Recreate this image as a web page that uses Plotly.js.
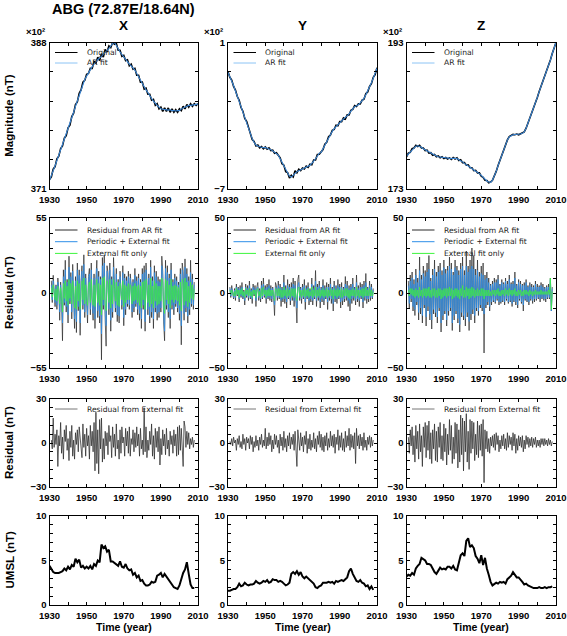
<!DOCTYPE html>
<html><head><meta charset="utf-8">
<script src="https://cdn.plot.ly/plotly-3.0.1.min.js"></script>
<style>html,body{margin:0;padding:0;background:#fff}#chart{width:567px;height:636px}</style>
</head><body><div id="chart"></div>
<script>
// ---------- DATA ----------
const yearsAnnual = [1930,1931,1932,1933,1934,1935,1936,1937,1938,1939,1940,1941,1942,1943,1944,1945,1946,1947,1948,1949,1950,1951,1952,1953,1954,1955,1956,1957,1958,1959,1960,1961,1962,1963,1964,1965,1966,1967,1968,1969,1970,1971,1972,1973,1974,1975,1976,1977,1978,1979,1980,1981,1982,1983,1984,1985,1986,1987,1988,1989,1990,1991,1992,1993,1994,1995,1996,1997,1998,1999,2000,2001,2002,2003,2004,2005,2006,2007,2008,2009,2010];

// Magnitude (x10^2 nT)
const xOriginal = [372.1,372.4,373.3,373.6,374.5,374.8,375.7,376.0,376.9,377.2,378.1,378.4,379.4,379.8,380.8,381.1,382.1,382.5,383.4,383.6,384.3,
 384.4,385.0,385.0,385.8,385.6,386.3,385.9,386.7,386.3,387.2,
 386.9,387.6,387.4,388.0,387.8,387.9,387.1,387.1,386.4,386.5,
 385.9,386.0,385.3,385.5,384.9,385.0,384.2,384.2,383.4,383.4,
 382.6,382.7,382.0,382.0,381.3,381.4,380.7,380.9,380.3,380.5,
 380.0,380.4,380.0,380.4,379.9,380.3,379.9,380.2,379.9,380.3,
 380.1,380.6,380.3,380.8,380.5,380.9,380.6,380.9,380.7,380.9];
const xARfit = [372.0,372.5,373.1,373.7,374.3,374.9,375.5,376.1,376.7,377.3,377.9,378.5,379.2,379.9,380.6,381.2,381.9,382.6,383.2,383.7,384.1,
 384.5,384.8,385.2,385.5,385.8,386.0,386.2,386.4,386.6,386.9,
 387.1,387.3,387.6,387.9,388.0,387.7,387.3,386.9,386.6,386.3,
 386.1,385.8,385.5,385.3,385.1,384.8,384.4,384.0,383.6,383.2,
 382.8,382.5,382.2,381.8,381.5,381.2,380.9,380.7,380.5,380.3,
 380.25,380.2,380.2,380.15,380.2,380.1,380.1,380.05,380.1,380.1,
 380.3,380.4,380.5,380.6,380.7,380.7,380.75,380.8,380.8,380.85];
const yOriginal = [-0.6,-0.9,-1.05,-1.4,-1.6,-1.95,-2.15,-2.55,-2.75,-3.15,-3.3,
 -3.65,-3.9,-4.3,-4.4,-4.65,-4.6,-4.75,-4.68,-4.8,-4.7,
 -4.82,-4.75,-4.9,-4.88,-5.05,-5.02,-5.2,-5.3,-5.62,-5.7,
 -6.05,-6.1,-6.4,-6.25,-6.35,-6.0,-6.12,-5.92,-6.0,-5.85,
 -5.9,-5.75,-5.82,-5.65,-5.68,-5.42,-5.42,-5.12,-5.1,-4.95,
 -4.85,-4.55,-4.45,-4.15,-4.05,-3.8,-3.75,-3.52,-3.55,-3.32,
 -3.32,-3.12,-3.18,-2.95,-2.95,-2.7,-2.65,-2.45,-2.5,-2.35,
 -2.35,-2.15,-2.1,-1.8,-1.7,-1.4,-1.25,-0.9,-0.75,-0.38];
const yARfit = [-0.63,-0.85,-1.1,-1.35,-1.65,-1.9,-2.2,-2.5,-2.8,-3.1,-3.35,
 -3.6,-3.95,-4.25,-4.45,-4.6,-4.65,-4.7,-4.72,-4.75,-4.73,
 -4.78,-4.8,-4.85,-4.92,-5.0,-5.08,-5.15,-5.35,-5.55,-5.75,
 -5.95,-6.15,-6.3,-6.35,-6.25,-6.1,-6.05,-6.0,-5.95,-5.9,
 -5.85,-5.8,-5.75,-5.7,-5.6,-5.5,-5.35,-5.2,-5.05,-5.0,
 -4.8,-4.6,-4.4,-4.2,-4.0,-3.85,-3.7,-3.58,-3.48,-3.38,
 -3.28,-3.18,-3.1,-3.0,-2.9,-2.75,-2.6,-2.5,-2.45,-2.4,
 -2.3,-2.2,-2.05,-1.85,-1.65,-1.45,-1.2,-0.95,-0.7,-0.4];
const zOriginal = [177.4,177.9,178.0,178.5,178.6,178.95,178.8,178.95,178.6,178.6,178.25,
 178.3,177.9,177.95,177.6,177.7,177.4,177.5,177.25,177.4,177.15,
 177.3,177.1,177.25,177.05,177.3,177.1,177.25,176.9,177.0,176.6,
 176.6,176.25,176.3,175.9,175.9,175.5,175.55,175.2,175.2,174.75,
 174.6,174.2,174.15,173.85,173.95,174.2,174.7,175.4,176.2,176.9,
 177.6,178.4,179.1,179.7,180.15,180.25,180.45,180.4,180.5,180.4,
 180.55,180.6,180.8,181.3,182.0,182.7,183.3,183.9,184.6,185.5,
 186.3,187.0,187.6,188.3,189.0,189.8,190.6,191.5,192.3,193.0];
const zARfit = [177.5,177.8,178.1,178.4,178.7,178.85,178.9,178.85,178.7,178.5,178.35,
 178.2,178.0,177.85,177.7,177.6,177.5,177.4,177.35,177.3,177.25,
 177.2,177.2,177.15,177.15,177.2,177.2,177.15,177.0,176.9,176.7,
 176.5,176.35,176.2,176.0,175.8,175.6,175.45,175.3,175.1,174.85,
 174.55,174.3,174.1,173.95,173.9,174.2,174.7,175.4,176.2,176.9,
 177.6,178.4,179.1,179.7,180.1,180.3,180.4,180.45,180.45,180.45,
 180.5,180.6,180.8,181.3,182.0,182.7,183.3,183.9,184.6,185.5,
 186.3,187.0,187.6,188.3,189.0,189.8,190.6,191.5,192.3,193.0];

// Residuals, half-year samples from 1931.0 to 2008.0
const resStart = 1931, resStep = 0.5;
const xResAR = [9,-7,13,-4,-10,6,-12,11,3,-20, 8,-6,-35,17,-9,24,-14,10,-22,27, -8,15,-19,21,4,-26,12,-29,22,-13,
 17,-31,9,20,-12,28,-18,14,-6,-22, 12,18,-16,22,-9,-20,14,-26,10,24, -18,16,-22,12,-49,26,-12,28,-20,-39,
 20,15,-16,22,-28,12,-18,26,5,-14, 18,-21,10,-22,16,3,-12,20,-24,14, -16,12,-10,16,-12,14,6,-18,10,-14,
 18,-10,12,-16,14,-20,10,-26,18,-12, 20,-28,22,8,-16,14,-22,24,-18,12, -26,20,-14,16,-20,12,-18,10,-14,27,
 16,-22,-35,24,-12,20,-18,14,-26,22, -12,10,-16,14,-10,12,-14,8,-20,18, -38,22,16,-20,25,-14,18,-22,12,-16, 24,-10,14,-12,8];
const xResPE = [6,-5,9,-3,-7,5,-9,8,2,-14, 6,-5,-22,12,-7,17,-10,8,-16,19, -6,12,-14,16,3,-19,9,-21,17,-10,
 13,-22,7,16,-9,21,-14,11,-5,-16, 9,14,-12,17,-7,-15,11,-19,8,18, -13,12,-17,10,-30,20,-9,22,-15,-24,
 16,11,-12,17,-20,10,-14,19,4,-11, 14,-16,8,-17,12,2,-9,15,-18,11, -12,9,-8,12,-9,11,5,-14,8,-11,
 13,-8,9,-12,11,-15,8,-19,14,-9, 15,-21,17,6,-12,11,-17,19,-14,9, -19,15,-11,12,-15,9,-14,8,-11,20,
 13,-17,-28,18,-9,15,-14,11,-19,17, -9,8,-12,11,-8,9,-11,6,-15,14, -24,17,12,-15,19,-11,14,-17,9,-12, 15,-8,10,-9,6];
const xResExt = [4,-3,6,-2,-5,3,-6,5,1,-8, 4,-3,-14,7,-4,9,-6,5,-9,10, -4,7,-8,9,2,-11,5,-12,9,-6,
 7,-12,4,9,-5,11,-8,6,-3,-9, 5,8,-7,10,-4,-9,6,-10,5,10, -7,7,-9,6,-16,11,-5,12,-8,-13,
 9,6,-7,10,-11,6,-8,10,2,-6, 8,-9,5,-10,7,1,-5,9,-10,6, -7,5,-5,7,-5,6,3,-8,5,-6,
 7,-5,5,-7,6,-9,5,-11,8,-5, 9,-12,10,4,-7,6,-10,11,-8,5, -11,9,-6,7,-9,5,-8,5,-6,11,
 8,-10,-15,10,-5,9,-8,6,-11,10, -5,5,-7,6,-5,5,-6,4,-9,8, -13,10,7,-9,11,-6,8,-10,5,-7, 8,-4,6,-5,3];
const yResAR = [4,-3,5,-2,-4,3,-5,6,-2,4, -6,5,-3,7,-4,2,-8,6,-3,5, -5,8,-4,3,-7,6,-2,5,-9,4,
 7,-5,3,-6,8,-4,10,-3,5,-7, 6,-4,9,-5,5,-6,4,-3,-15,7, 5,-5,8,-4,6,-9,4,-6,12,-7,
 5,-10,9,-4,6,-8,7,-5,10,-9, 8,-6,-20,9,12,-5,4,-7,6,-4, 9,-11,5,-4,7,-8,3,-6,10,-8,
 5,-4,15,-9,6,-5,8,-10,4,-6, 9,-8,5,-4,7,-11,6,-5,10,-7, 4,-12,8,-6,5,-7,9,-4,6,-10,
 7,-8,4,-6,11,-5,8,-9,5,-12, 6,-7,10,-5,4,-8,12,-6,5,-9, 7,-4,6,-10,8,-5,13,-7,4,-6, 8,-5,6,-4,3];
const yResPE = [3,-2,3,-1,-3,2,-3,4,-1,3, -4,3,-2,4,-3,1,-5,4,-2,3, -3,5,-3,2,-4,4,-1,3,-5,3,
 4,-3,2,-4,5,-3,6,-2,3,-4, 4,-3,5,-3,3,-4,3,-2,-8,4, 3,-3,5,-3,4,-5,3,-4,7,-4,
 3,-6,5,-3,4,-5,4,-3,6,-5, 5,-4,-10,5,7,-3,3,-4,4,-3, 5,-6,3,-3,4,-5,2,-4,6,-5,
 3,-3,8,-5,4,-3,5,-6,3,-4, 5,-5,3,-3,4,-6,4,-3,6,-4, 3,-7,5,-4,3,-4,5,-3,4,-6,
 4,-5,3,-4,6,-3,5,-5,3,-7, 4,-4,6,-3,3,-5,7,-4,3,-5, 4,-3,4,-6,5,-3,7,-4,3,-4, 5,-3,4,-3,2];
const yResExt = [2,-1,2,-1,-2,1,-2,3,-1,2, -3,2,-1,3,-2,1,-3,3,-1,2, -2,3,-2,1,-3,2,-1,2,-3,2,
 3,-2,1,-3,3,-2,4,-1,2,-3, 2,-2,3,-2,2,-2,2,-1,-5,3, 2,-2,3,-2,3,-3,2,-3,4,-2,
 2,-3,3,-2,2,-3,3,-2,3,-3, 3,-2,-5,3,4,-2,2,-3,2,-2, 3,-3,2,-2,3,-3,1,-2,4,-3,
 2,-2,4,-3,2,-2,3,-3,2,-2, 3,-3,2,-2,3,-3,2,-2,3,-2, 2,-4,3,-2,2,-3,3,-2,2,-3,
 3,-3,2,-2,3,-2,3,-3,2,-4, 2,-2,3,-2,2,-3,4,-2,2,-3, 2,-2,3,-3,3,-2,4,-2,2,-2, 3,-2,2,-2,1];
const zResAR = [8,-10,12,-6,14,-12,9,-15,16,-8, 10,-18,24,-14,12,-20,18,-10,15,-22, 20,-12,25,-18,10,-24,16,-14,22,-16,
 14,-20,18,-12,20,-26,15,-18,22,-14, 16,-22,18,-15,24,-12,20,-25,14,-18, 22,-14,18,-20,15,-26,20,-16,24,-18,
 15,-22,28,-16,18,-25,22,-18,30,-14, 25,-20,16,-12,22,-15,14,-10,18,-12, 20,-40,12,-10,14,-8,10,-12,6,-8,
 8,-6,10,-7,9,-5,12,-8,6,-7, 9,-6,7,-8,10,-5,8,-7,12,-6, 7,-9,8,-6,14,-8,6,-10,9,-5,
 8,-7,6,-12,7,-5,9,-6,5,-8, 7,-5,6,-7,5,-6,8,-5,6,-4, 5,-6,7,-4,6,-5,4,-6,5,-4, 6,-4,10,-12,4];
const zResPE = [5,-7,8,-4,10,-9,6,-11,12,-6, 7,-13,15,-10,9,-15,13,-8,11,-16, 14,-9,16,-14,8,-18,12,-11,16,-13,
 11,-16,14,-10,15,-20,12,-15,17,-12, 13,-18,15,-12,18,-10,16,-20,12,-15, 17,-12,15,-17,12,-21,16,-13,18,-15,
 12,-17,18,-13,14,-19,16,-14,18,-11, 16,-15,12,-10,15,-12,11,-8,13,-10, 12,-14,9,-8,10,-6,7,-9,5,-6,
 6,-5,7,-6,7,-4,9,-6,5,-6, 7,-5,6,-6,8,-4,6,-6,9,-5, 6,-7,6,-5,10,-6,5,-8,7,-4,
 6,-6,5,-8,5,-4,7,-5,4,-6, 5,-4,4,-5,4,-4,6,-4,4,-3, 4,-4,5,-3,4,-4,3,-4,4,-3, 4,-3,9,-12,3];
const zResExt = [2,-2,3,-1,3,-2,2,-3,3,-2, 2,-3,4,-2,2,-3,3,-2,3,-3, 3,-2,4,-3,2,-3,3,-2,3,-3,
 2,-3,3,-2,3,-4,2,-3,3,-2, 3,-3,3,-2,4,-2,3,-4,2,-3, 3,-2,3,-3,2,-4,3,-2,5,-3,
 2,-3,4,-2,3,-4,3,-3,4,-2, 3,-3,2,-2,3,-2,2,-2,3,-2, 3,-4,2,-2,2,-2,2,-2,1,-2,
 2,-1,2,-2,2,-1,3,-2,1,-2, 2,-1,2,-2,3,-1,2,-2,3,-1, 2,-2,2,-1,3,-2,1,-2,2,-1,
 2,-2,1,-2,2,-1,2,-1,1,-2, 2,-1,1,-2,1,-1,2,-1,1,-1, 1,-1,2,-1,1,-1,1,-1,1,-1, 2,-1,10,-11,1];
// Residual from external fit
const xResFromExt = [2,-4,17,-3,6,-1,9,-16,5,-2, 14,-7,4,-11,9,1,12,-5,3,-12, 8,-3,12,-9,2,-11,7,-1,9,-6,
 11,2,-5,-10,13,-3,6,-9,10,-2, 5,-11,12,-2,8,-6,14,-19,21,-14, 9,-21,16,-4,17,-13,3,-11,8,-2,
 7,-8,12,1,5,-10,11,-3,6,-9, 13,-4,2,-11,9,-7,11,0,4,-9, 10,-2,8,-7,11,-9,3,-1,9,-6,
 7,-3,11,-2,6,-9,10,-4,2,-8, 24,-6,11,-10,2,-5,8,-1,13,-9, 5,-11,10,-3,8,-6,11,-15,3,-8,
 9,-2,6,-8,10,-4,2,-9,8,-1, 5,-7,9,-2,6,-9,11,-8,12,-5, 10,-7,-16,15,11,-3,8,-1,7,-4, 3,-1,4,-3,2];
const yResFromExt = [1,-1,3,-2,4,0,2,-5,3,-1, 5,-3,1,-4,6,-1,3,-5,4,0, 3,-4,5,-1,4,-6,1,-3,5,-2,
 2,-5,4,-1,6,-3,2,-2,10,-4, 4,-2,7,-1,5,-6,2,-4,6,-1, 5,-3,2,-7,6,-2,4,-5,8,-3,
 3,-6,5,-2,7,-4,4,-1,6,-5, 8,-3,-16,9,2,-5,7,-2,4,-6, 5,-1,8,-7,3,-4,6,-5,2,-3,
 7,-4,3,-6,5,-1,8,-3,6,-5, 4,-6,5,-2,7,-5,3,-3,8,-2, 5,-3,6,-7,4,-1,9,-5,5,-3,
 7,-5,3,-6,8,-3,5,-2,10,-5, 6,-3,5,-4,7,-14,10,-2,5,-4, 6,-2,4,-5,7,-3,2,-5,4,-1, 5,-3,4,-2,2];
const zResFromExt = [4,-7,9,-2,11,-8,5,-13,12,-4, 8,-11,13,-6,5,-16,11,-3,14,-10, 12,-5,15,-11,7,-14,9,-4,13,-12,
 8,-13,11,-3,14,-11,5,-12,13,-6, 10,-15,6,-8,16,-5,12,-14,4,-11, 14,-7,13,-17,9,-13,19,-8,17,-19,
 15,-6,20,-13,8,-18,16,-7,15,-4, 14,-12,6,-8,15,-10,12,-5,13,-9, 16,-27,9,-4,8,-6,3,-7,4,-2,
 5,-3,6,-5,7,-1,5,-6,2,-4, 5,-2,6,-4,3,-5,7,-3,5,-1, 4,-5,7,-2,6,-7,3,-5,5,-2,
 4,-3,5,-6,2,-4,5,-1,4,-3, 3,-2,4,-3,3,-1,4,-3,2,-2, 2,-3,3,-1,3,-2,3,-1,2,-2, 3,-1,2,-2,1];

// UMSL (nT), annual 1930..2008
const umslYears = yearsAnnual.slice(0, 79);
const umslX = [4.4,4.1,3.7,3.6,3.6,3.6,3.7,3.8,4.1,3.9,4.3,4.0,4.5,4.3,5.2,4.8,5.1,4.2,4.4,4.1,4.3,4.1,4.4,4.0,4.6,4.4,5.0,4.8,6.8,6.4,
 6.6,6.0,6.2,4.9,4.9,4.7,4.6,4.4,4.9,4.3,4.2,4.6,4.1,3.9,4.0,3.4,3.6,3.1,3.3,2.7,2.8,2.4,2.2,2.2,2.3,2.6,2.5,2.6,3.3,3.4,
 3.6,3.1,3.5,3.2,2.8,2.5,2.2,2.0,1.9,1.8,2.2,2.9,3.6,4.0,4.8,3.5,2.3,1.9,1.9];
const umslY = [1.6,1.6,1.7,1.8,1.8,2.0,2.4,2.1,2.2,2.5,2.3,2.2,2.3,2.3,2.4,2.7,2.5,2.4,2.5,2.7,2.6,2.8,2.5,2.6,2.9,2.8,2.8,2.6,2.7,2.6,
 2.4,2.2,2.3,2.5,3.5,3.7,3.5,3.8,3.4,3.7,3.2,3.0,3.2,3.0,2.8,2.6,2.4,2.0,1.9,2.1,2.2,2.5,2.5,2.5,2.6,2.5,2.6,2.4,2.7,2.6,
 2.7,2.8,2.7,2.9,3.1,3.8,4.1,3.5,3.0,2.7,2.6,2.8,2.5,2.4,2.1,2.2,1.8,2.1,1.7];
const umslZ = [3.2,3.4,3.3,3.6,3.4,4.1,4.4,4.6,5.3,5.1,5.0,4.6,4.6,4.5,4.0,3.7,3.5,3.8,4.2,4.0,4.1,4.0,4.3,4.3,4.1,4.4,4.0,3.9,4.8,5.6,
 5.8,5.5,7.2,7.5,6.5,6.7,6.4,5.5,5.2,4.7,5.6,4.5,5.3,4.1,3.4,2.6,2.2,2.4,2.5,2.4,2.6,2.5,2.6,2.4,2.9,3.1,3.3,3.7,3.4,3.1,
 3.1,2.9,2.6,2.3,2.4,2.2,2.1,2.0,1.9,1.9,1.9,2.0,1.9,1.9,2.0,1.9,2.0,2.0,2.1];

// Labels
const componentNames = ['X', 'Y', 'Z'];
const rowTitles = ['Magnitude (nT)', 'Residual (nT)', 'Residual (nT)', 'UMSL (nT)'];
const xTickLabels = ['1930', '', '1950', '', '1970', '', '1990', '', '2010'];
const xTickValues = [1930, 1940, 1950, 1960, 1970, 1980, 1990, 2000, 2010];
const yRanges = [[[371,388],[-7,1],[173,193]], [[-55,55],[-50,50],[-50,50]], [[-30,30],[-30,30],[-30,30]], [[0,10],[0,10],[0,10]]];
const yMinorCount = [5, 10, 10, 10];
const yLabelledFrac = [[0,1], [0,0.5,1], [0,0.5,1], [0,0.5,1]];
const legendLabels = [['Original', 'AR fit'], ['Residual from AR fit', 'Periodic + External fit', 'External fit only'], ['Residual from External fit'], []];

// ---------- LAYOUT ----------
const W = 567, H = 636;
const colPx = [[49.5,198],[228,377],[406.5,556]];
const rowPx = [[42.5,189],[218,368],[399,487],[516,605]];
const C_BLACK = '#000000', C_AR = '#3a86d6', C_PE = '#2f8fe8', C_EXT = '#3cf53c', C_RES = '#2a2a2a';
const tickFont = {family: 'Liberation Sans, Arial, sans-serif', size: 9.5, color: '#000', weight: 'bold'};
const fmt = v => { const s = String(Math.round(v*100)/100); return s.replace('-', '\u2212'); };

const tRes = xResAR.map((_, i) => resStart + resStep * i);

const layout = {
  width: W, height: H, margin: {l:0, r:0, t:0, b:0},
  paper_bgcolor: '#fff', plot_bgcolor: '#fff', showlegend: false,
  annotations: [], shapes: []
};
const data = [];

for (let r = 0; r < 4; r++) {
  for (let c = 0; c < 3; c++) {
    const k = r*3 + c + 1;
    const xn = k === 1 ? 'x' : 'x' + k, yn = k === 1 ? 'y' : 'y' + k;
    const xk = k === 1 ? 'xaxis' : 'xaxis' + k, yk = k === 1 ? 'yaxis' : 'yaxis' + k;
    const rng = yRanges[r][c];
    const n = yMinorCount[r];
    const tv = [], tt = [];
    for (let i = 0; i <= n; i++) {
      const v = rng[0] + (rng[1]-rng[0]) * i / n;
      tv.push(v);
      tt.push(yLabelledFrac[r].some(f => Math.abs(f - i/n) < 1e-9) ? fmt(v) : '');
    }
    layout[xk] = {
      domain: [colPx[c][0]/W, colPx[c][1]/W], anchor: yn, range: [1930, 2010],
      tickvals: xTickValues, ticktext: xTickLabels, ticks: 'inside', ticklen: 3, tickwidth: 1, tickcolor: '#000',
      mirror: 'allticks', showline: true, linecolor: '#000', linewidth: 1, showgrid: false, zeroline: false,
      tickfont: tickFont, ticklabelstandoff: 2
    };
    layout[yk] = {
      domain: [1 - rowPx[r][1]/H, 1 - rowPx[r][0]/H], anchor: xn, range: rng,
      tickvals: tv, ticktext: tt, ticks: 'inside', ticklen: 3, tickwidth: 1, tickcolor: '#000',
      mirror: 'allticks', showline: true, linecolor: '#000', linewidth: 1, showgrid: false, zeroline: false,
      tickfont: tickFont
    };
    if (r === 0) {
      const orig = [xOriginal, yOriginal, zOriginal][c];
      const fit = [xARfit, yARfit, zARfit][c];
      data.push({x: yearsAnnual, y: orig, xaxis: xn, yaxis: yn, type: 'scatter', mode: 'lines', name: 'Original', line: {color: C_BLACK, width: 1.6}});
      data.push({x: yearsAnnual, y: fit, xaxis: xn, yaxis: yn, type: 'scatter', mode: 'lines', name: 'AR fit', line: {color: C_AR, width: 1.1}});
    } else if (r === 1) {
      const a = [xResAR, yResAR, zResAR][c], p = [xResPE, yResPE, zResPE][c], e = [xResExt, yResExt, zResExt][c];
      data.push({x: tRes, y: a, xaxis: xn, yaxis: yn, type: 'scatter', mode: 'lines', name: 'Residual from AR fit', line: {color: C_RES, width: 0.7}});
      data.push({x: tRes, y: p, xaxis: xn, yaxis: yn, type: 'scatter', mode: 'lines', name: 'Periodic + External fit', line: {color: C_PE, width: 0.75}});
      data.push({x: tRes, y: e, xaxis: xn, yaxis: yn, type: 'scatter', mode: 'lines', name: 'External fit only', line: {color: C_EXT, width: 0.7}});
    } else if (r === 2) {
      const s = [xResFromExt, yResFromExt, zResFromExt][c];
      data.push({x: tRes, y: s, xaxis: xn, yaxis: yn, type: 'scatter', mode: 'lines', name: 'Residual from External fit', line: {color: C_RES, width: 0.75}});
    } else {
      const s = [umslX, umslY, umslZ][c];
      data.push({x: umslYears, y: s, xaxis: xn, yaxis: yn, type: 'scatter', mode: 'lines', name: 'UMSL', line: {color: C_BLACK, width: 2}});
    }
    // in-panel legends
    const legColors = [[C_BLACK, '#8cc4f5'], [C_RES, C_PE, C_EXT], ['#777']][r] || [];
    const legStep = [10.5, 11.7, 0][r];
    const legTop = [10, 12, 10][r];
    const ph = rowPx[r][1] - rowPx[r][0], pw = colPx[c][1] - colPx[c][0];
    (legendLabels[r] || []).forEach((lab, i) => {
      const yy = 1 - (legTop + i*legStep) / ph;
      layout.shapes.push({type: 'line', xref: xn + ' domain', yref: yn + ' domain', x0: 5.5/pw, x1: 28/pw, y0: yy, y1: yy,
        line: {color: legColors[i], width: 1}});
      layout.annotations.push({xref: xn + ' domain', yref: yn + ' domain', x: 35/pw, y: yy, xanchor: 'left', yanchor: 'middle',
        text: lab, showarrow: false, font: {family: 'DejaVu Sans, sans-serif', size: 7.6, color: '#222'}});
    });
    if (r === 0) {
      layout.annotations.push({xref: 'paper', yref: 'paper', x: (colPx[c][0]+colPx[c][1])/2/W, y: 1 - 26/H, xanchor: 'center', yanchor: 'middle',
        text: componentNames[c], showarrow: false, font: {family: 'Liberation Sans, sans-serif', size: 13.5, color: '#000', weight: 'bold'}});
      layout.annotations.push({xref: 'paper', yref: 'paper', x: (colPx[c][0]-3)/W, y: 1 - 32/H, xanchor: 'right', yanchor: 'middle',
        text: '\u00d710\u00b2', showarrow: false, font: {family: 'Liberation Sans, sans-serif', size: 9.5, color: '#000', weight: 'bold'}});
    }
    if (r === 3) {
      layout.annotations.push({xref: 'paper', yref: 'paper', x: (colPx[c][0]+colPx[c][1])/2/W, y: 1 - 627/H, xanchor: 'center', yanchor: 'middle',
        text: 'Time (year)', showarrow: false, font: {family: 'Liberation Sans, sans-serif', size: 10.5, color: '#000', weight: 'bold'}});
    }
  }
  layout.annotations.push({xref: 'paper', yref: 'paper', x: 9/W, y: 1 - (rowPx[r][0]+rowPx[r][1])/2/H, xanchor: 'center', yanchor: 'middle',
    textangle: -90, text: rowTitles[r], showarrow: false, font: {family: 'Liberation Sans, sans-serif', size: 11.5, color: '#000', weight: 'bold'}});
}
layout.annotations.push({xref: 'paper', yref: 'paper', x: 50/W, y: 1 - 9/H, xanchor: 'left', yanchor: 'middle',
  text: 'ABG (72.87E/18.64N)', showarrow: false, font: {family: 'Liberation Sans, sans-serif', size: 14.5, color: '#000', weight: 'bold'}});

Plotly.newPlot('chart', data, layout, {staticPlot: true, displayModeBar: false});
</script>
</body></html>
